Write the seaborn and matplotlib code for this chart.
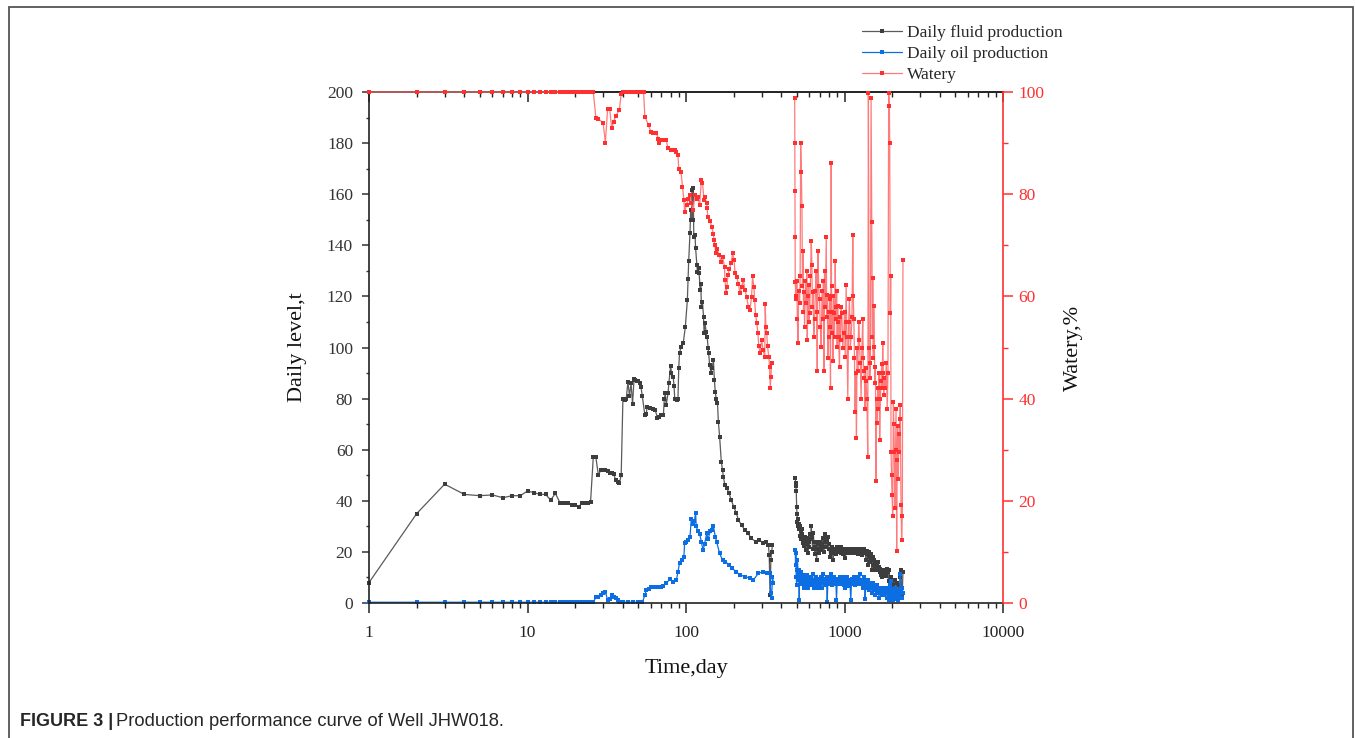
import pandas as pd
import matplotlib

matplotlib.use("Agg")
import matplotlib.pyplot as plt
import seaborn as sns
from matplotlib.lines import Line2D
from matplotlib.patches import Rectangle
from matplotlib.ticker import LogLocator, MultipleLocator, NullFormatter, FuncFormatter

# ---- data (day, value); two campaigns split by a shut-in gap ----
fluid_days_1 = [1, 2, 3, 4, 5, 6, 7, 8, 9, 10, 11, 12, 13, 14, 15, 16, 17, 18, 19, 20,
                21, 22, 23, 24, 25, 26, 27, 28, 29, 30, 31, 32, 33, 34, 35, 36, 37, 38, 39, 40,
                41, 42, 43, 44, 45, 46, 47, 48, 49, 50, 51, 52, 53, 55, 56, 57, 59, 62, 64, 66,
                68, 70, 72, 73, 74, 75, 77, 78, 80, 81, 83, 84, 85, 87, 88, 89, 90, 91, 93, 96,
                99, 102, 103, 104, 106, 107, 108, 109, 110, 111, 112, 114, 115, 117, 118, 120, 121, 123, 124, 125,
                127, 129, 130, 132, 134, 136, 138, 139, 141, 144, 146, 149, 151, 153, 155, 158, 160, 163, 167, 170,
                172, 176, 181, 187, 193, 200, 208, 214, 224, 235, 246, 258, 276, 290, 304, 319, 331, 335, 339, 343,
                347, 351]
fluid_vals_1 = [8, 35, 46.5, 42.5, 42, 42.3, 41.2, 42, 42, 43.8, 43.2, 42.5, 42.5, 40.3, 42.9, 39.3, 39, 39, 38.5, 38.2,
                37.6, 39, 39, 39, 39.7, 57, 57, 50, 52, 52, 52, 51.5, 51, 51, 50.5, 48, 47.5, 47, 50, 80,
                79.5, 80, 86.6, 81, 86, 78, 87.5, 87.2, 87, 87, 86, 84.5, 81, 73.6, 74, 76.8, 76.5, 76, 75.4, 72.6,
                72.7, 73.5, 73.6, 80, 82, 77.5, 82, 86.2, 92.8, 90, 88.6, 85, 79.7, 79.7, 79.5, 80, 92, 97.7, 100.3, 101.6,
                108, 118.6, 127, 134, 145, 153.8, 150, 161.6, 150, 162.3, 143.4, 144, 138.8, 132.3, 129.7, 131, 129, 122.5, 125, 116,
                118, 112, 105.6, 109.5, 106, 104, 100, 97.7, 93, 90, 92, 95, 87.3, 82.7, 80, 78.2, 71, 65, 55.3, 52,
                49.4, 46.2, 44.9, 42.9, 40.3, 37.7, 35.1, 32.5, 30.5, 28.6, 27.3, 25.3, 24, 24.7, 23.6, 24, 22.7, 18.8, 3, 16.8,
                20, 22.7]

fluid_days_2 = [489, 491, 493, 496, 499, 502, 505, 509, 512, 515, 518, 521, 525, 528, 532, 536, 540, 545, 549, 554,
                558, 563, 568, 573, 578, 583, 588, 594, 600, 606, 612, 617, 623, 629, 635, 641, 647, 653, 660, 666,
                673, 679, 686, 693, 700, 707, 713, 720, 727, 734, 741, 748, 755, 763, 770, 778, 785, 793, 800, 808,
                816, 824, 832, 840, 848, 856, 865, 873, 882, 890, 899, 908, 917, 926, 935, 944, 953, 963, 972, 982,
                992, 1002, 1012, 1022, 1032, 1042, 1052, 1063, 1073, 1084, 1095, 1106, 1117, 1128, 1139, 1150, 1162, 1173, 1185, 1197,
                1209, 1221, 1233, 1246, 1258, 1271, 1284, 1297, 1310, 1323, 1336, 1349, 1363, 1377, 1390, 1404, 1418, 1433, 1447, 1462,
                1476, 1491, 1506, 1521, 1536, 1552, 1567, 1583, 1599, 1615, 1631, 1648, 1664, 1681, 1698, 1715, 1732, 1750, 1767, 1785,
                1803, 1821, 1840, 1858, 1877, 1896, 1915, 1934, 1954, 1973, 1993, 2013, 2033, 2054, 2074, 2095, 2116, 2137, 2159, 2180,
                2202, 2224, 2246, 2269, 2291, 2314, 2337]
fluid_vals_2 = [49, 47, 45.7, 44, 37.7, 35, 31.6, 30.3, 33, 28.9, 31, 30, 26.2, 28, 24.9, 29, 27, 23.5, 26, 25,
                22.2, 26, 24, 20.8, 25.5, 23, 19.5, 24, 22, 27, 25, 30, 26, 21, 27.5, 24, 22, 19, 24, 17,
                21, 23, 19.5, 21, 24, 22, 20.8, 23, 25.5, 22, 20, 27, 24, 22, 25.5, 24.5, 26, 23, 21, 18,
                20.8, 19.5, 22, 21, 16.8, 20, 19.5, 21, 20.8, 19, 22, 21, 20, 20.8, 22, 19.5, 22, 20, 19, 20.8,
                21, 19.5, 17.5, 20, 21, 20.8, 19.5, 21, 20, 21, 20.8, 19.5, 21, 20, 19.5, 20.8, 21, 19.5, 20, 21,
                20.8, 19, 21, 20, 19.5, 21, 20.8, 18.8, 20, 21, 19.5, 20, 17, 20.5, 19, 15, 20, 18, 16, 19,
                17, 13, 18, 15, 17, 14, 16, 12.8, 15, 13, 16, 14, 12, 13.5, 11, 12.8, 10, 12.8, 11.5, 13,
                12, 10.5, 11, 13.5, 12, 8.7, 12.8, 7.4, 10, 5, 8, 3, 7, 4.7, 9, 6, 3, 8, 5, 2,
                7, 4, 10, 13, 6, 3, 12]

oil_days_1 = [1, 2, 3, 4, 5, 6, 7, 8, 9, 10, 11, 12, 13, 14, 15, 16, 17, 18, 19, 20,
              21, 22, 23, 24, 25, 26, 27, 28, 29, 30, 31, 32, 33, 34, 35, 36, 37, 38, 39, 40,
              43, 46, 50, 53, 55, 56, 58, 60, 62, 65, 68, 70, 72, 75, 79, 83, 87, 89, 91, 94,
              97, 98, 100, 103, 106, 108, 111, 113, 115, 116, 119, 122, 125, 128, 131, 135, 138, 142, 145, 149,
              153, 156, 163, 170, 177, 187, 196, 206, 219, 236, 253, 266, 286, 307, 323, 339, 342, 347, 351, 356]
oil_vals_1 = [0.3, 0.3, 0.3, 0.3, 0.3, 0.3, 0.3, 0.3, 0.3, 0.3, 0.3, 0.3, 0.3, 0.3, 0.3, 0.3, 0.3, 0.3, 0.3, 0.3,
              0.3, 0.3, 0.3, 0.3, 0.3, 0.3, 2.2, 2.5, 3, 3.8, 4.4, 1.2, 1.5, 3, 2.5, 2, 1, 0.5, 0.3, 0.3,
              0.3, 0.3, 0.3, 0.3, 3, 5, 5.5, 6.1, 6.2, 6.4, 6.4, 6.4, 6.6, 7.7, 9.3, 8.4, 9, 12.3, 15.5, 17,
              18, 23.4, 24, 24.5, 26, 33, 31, 32, 35.3, 30, 28, 27, 24, 20.7, 23, 27.3, 25, 28, 28.6, 30,
              26, 24, 19.4, 16.8, 16.2, 14.9, 13.6, 12.3, 11, 10.3, 9.7, 9, 11.6, 12.3, 11.6, 11.6, 3.8, 2, 10.3, 8]

oil_days_2 = list(fluid_days_2)
oil_vals_2 = [20.8, 15, 19.4, 10.3, 7, 13, 16.8, 12, 9, 13, 1, 11.4, 9, 12, 8, 10, 7.4, 9.5, 11, 8,
              6, 9, 10.5, 7, 8.7, 11, 6, 9, 7.4, 10, 8, 9.5, 7, 11.4, 8, 6, 9, 8.7, 10, 7,
              9, 6, 8, 9.5, 7.4, 10, 8.7, 6, 9, 11.4, 8, 9.4, 7, 8.7, 10, 0.5, 8, 9, 7.4, 10,
              8.7, 11.4, 9, 7, 8, 10, 8.7, 7.4, 9, 1, 8, 9.5, 7.4, 8.7, 10, 8, 9, 7.4, 8.7, 10,
              7, 6, 8.7, 9, 7.4, 10, 8, 6.5, 9, 8, 1, 7.4, 9.5, 8, 7.4, 10, 8.7, 7, 9, 8,
              10, 7.4, 9, 11.4, 8, 7.4, 9, 8, 6, 8.7, 10, 1.5, 7, 8.7, 6, 9, 7.4, 5, 8, 6,
              7.4, 4, 6, 8, 5, 6.5, 3, 5.4, 7, 4, 6, 2, 5.4, 4, 6, 3, 5, 4, 6, 3,
              5.4, 4, 6, 2, 4, 5.4, 1, 7, 3, 8.7, 2, 5, 1, 4, 2, 6, 1.5, 5, 3, 1,
              4, 2, 11.4, 5, 2, 6, 4]

water_days_1 = [1, 2, 3, 4, 5, 6, 7, 8, 9, 10, 11, 12, 13, 14, 15, 16, 17, 18, 19, 20,
                21, 22, 23, 24, 25, 26, 27, 28, 30, 31, 32, 33, 34, 35, 36, 38, 39, 40, 42, 44,
                46, 48, 50, 52, 54, 55, 58, 60, 62, 65, 67, 68, 70, 73, 75, 77, 81, 85, 87, 89,
                90, 93, 95, 97, 98, 101, 103, 106, 108, 111, 114, 117, 119, 122, 125, 127, 130, 131, 135, 136,
                137, 142, 145, 149, 150, 152, 154, 157, 162, 166, 170, 175, 176, 179, 181, 184, 188, 192, 197, 201,
                204, 209, 214, 219, 224, 230, 236, 242, 247, 253, 259, 263, 268, 271, 275, 280, 284, 288, 293, 300,
                306, 314, 316, 319, 323, 327, 333, 337, 340, 343, 347]
water_vals_1 = [100, 100, 100, 100, 100, 100, 100, 100, 100, 100, 100, 100, 100, 100, 100, 100, 100, 100, 100, 100,
                100, 100, 100, 100, 100, 100, 95, 94.7, 94, 90.1, 96.6, 96.6, 92.9, 94.2, 95.3, 96.5, 99.7, 100, 100, 100,
                100, 100, 100, 100, 100, 95.2, 93.5, 92.2, 91.9, 91.9, 90.9, 90, 90.6, 90.6, 90.6, 89, 88.6, 88.6, 88.3, 87.6,
                85, 84.4, 81.5, 78.9, 76.6, 77.9, 79, 79.8, 78.2, 77, 79.8, 79, 79.5, 77.9, 82.8, 82.2, 78.9, 79.5, 78.2, 77.3,
                75.6, 74.8, 73.6, 72.3, 71, 70.1, 68.4, 69.2, 68.1, 66.8, 67.8, 65.8, 63.2, 60.6, 61.8, 64.2, 65.4, 66.5, 68.4, 67.2,
                64.5, 63.8, 62.5, 60.6, 61.8, 63.2, 61.2, 59.9, 58, 57.3, 59.8, 63.9, 61.9, 59.3, 56.4, 54.7, 52.8, 50.2, 48.9, 51.5,
                49.6, 48.2, 58.6, 54.1, 52.8, 50.2, 48.2, 46.2, 42, 44.3, 47]

water_days_2 = [485, 486, 487, 488, 489, 492, 496, 500, 504, 509,
                514, 521, 525, 529, 534, 539, 543, 547, 551, 555,
                560, 567, 574, 578, 582, 588, 594, 598, 603, 610,
                617, 623, 627, 632, 640, 647, 655, 663, 668, 673,
                679, 687, 696, 704, 713, 722, 731, 736, 741, 748,
                757, 767, 772, 778, 785, 793, 799, 805, 810, 816,
                820, 824, 828, 832, 838, 845, 851, 857, 865, 874,
                880, 886, 892, 899, 904, 908, 918, 930, 937, 944,
                952, 962, 975, 990, 1000, 1010, 1017, 1024, 1036, 1049,
                1062, 1075, 1088, 1101, 1115, 1128, 1137, 1145, 1156, 1167,
                1178, 1190, 1200, 1213, 1228, 1243, 1258, 1273, 1288, 1304,
                1313, 1323, 1335, 1348, 1358, 1368, 1385, 1402, 1415, 1430,
                1443, 1457, 1471, 1485, 1500, 1507, 1520, 1529, 1544, 1556,
                1567, 1582, 1595, 1606, 1620, 1636, 1650, 1667, 1685, 1701,
                1716, 1730, 1742, 1755, 1768, 1785, 1810, 1835, 1860, 1880,
                1900, 1919, 1928, 1946, 1956, 1966, 1980, 1994, 2014, 2034,
                2050, 2063, 2083, 2100, 2114, 2134, 2150, 2165, 2186, 2200,
                2218, 2235, 2250, 2272, 2294, 2316, 2338]
water_vals_2 = [98.9, 90.1, 80.7, 71.6, 62.9, 60, 59.5, 63, 55.5, 50.8,
                61, 58.8, 64, 90.1, 84.4, 77.7, 62, 68.9, 57, 60.9,
                54.1, 63, 58.8, 65, 51.4, 60, 62.2, 55, 56.8, 64,
                70.9, 66.2, 58, 60.9, 52, 55.5, 61, 64.9, 57, 45.4,
                68.9, 62, 59.5, 54, 50.1, 61, 55.5, 63, 45.4, 64.9,
                58, 71.6, 56, 60.2, 48, 52.1, 57, 59.5, 54, 42,
                60, 86.1, 62, 52.8, 57, 47.4, 60, 56.8, 52, 66.9,
                58, 55.5, 61, 50.1, 55, 58.2, 52, 46.1, 56, 51.4,
                58, 56.8, 50, 52.8, 57, 48.1, 55, 62.2, 52, 40,
                55, 59.5, 50, 52.1, 56, 72, 60, 55.5, 48, 37.3,
                45, 32.3, 50, 45.4, 55, 51.4, 47, 40, 50, 55.5,
                48, 45.4, 44, 38, 46, 43.4, 40, 28.6, 99.9, 50,
                44, 47, 98.9, 74.6, 52, 63.6, 48, 58.2, 50.1, 43,
                46.1, 23.9, 40, 35.3, 42, 38, 45, 31.9, 40, 43.4,
                46.7, 42, 50.8, 45, 40.7, 44, 42, 47, 38, 45,
                99.9, 97.2, 90.1, 56.8, 63.9, 29.6, 25, 21.2, 17.1, 39.3,
                35, 29.6, 18.5, 30, 38, 10.1, 28, 34.6, 24.2, 33,
                29.6, 36, 38.7, 19.2, 12.4, 17.1, 67.2]

x_ticks = [1, 10, 100, 1000, 10000]


def series_frame(days_1, vals_1, days_2, vals_2):
    # one frame per curve, "seg" keeps the shut-in gap unconnected
    return pd.DataFrame({
        "day": days_1 + days_2,
        "value": vals_1 + vals_2,
        "seg": [1] * len(days_1) + [2] * len(days_2),
    })


fluid_df = series_frame(fluid_days_1, fluid_vals_1, fluid_days_2, fluid_vals_2)
oil_df = series_frame(oil_days_1, oil_vals_1, oil_days_2, oil_vals_2)
water_df = series_frame(water_days_1, water_vals_1, water_days_2, water_vals_2)

sns.set_style("ticks")
plt.rcParams["font.family"] = ["Liberation Serif", "DejaVu Serif"]

W, H = 1355, 738
fig = plt.figure(figsize=(W / 100, H / 100), dpi=100)
ax = fig.add_axes([369 / W, (H - 603) / H, 634 / W, 511 / H])

black_c, blue_c, red_c, red_line = "#3d3d3d", "#0b6fe3", "#ff3030", "#ff7b7b"
line_kw = dict(units="seg", estimator=None, marker="s", markersize=3.5, linewidth=0.9,
               markeredgewidth=0, clip_on=False)

sns.lineplot(data=fluid_df, x="day", y="value", ax=ax, color="#5a5a5a",
             markerfacecolor=black_c, **line_kw)
sns.lineplot(data=oil_df, x="day", y="value", ax=ax, color=blue_c,
             markerfacecolor=blue_c, **line_kw)

ax.set_xscale("log")
ax.set_xlim(1, 10000)
ax.set_ylim(0, 200)
ax.set_xticks(x_ticks)
ax.xaxis.set_major_formatter(FuncFormatter(lambda v, _: f"{v:g}"))
ax.xaxis.set_minor_locator(LogLocator(base=10, subs=range(2, 10)))
ax.xaxis.set_minor_formatter(NullFormatter())
ax.yaxis.set_major_locator(MultipleLocator(20))
ax.yaxis.set_minor_locator(MultipleLocator(10))

ax.tick_params(axis="x", which="major", direction="out", length=7, width=1.1,
               labelsize=12.5, pad=8.5, colors="#222")
ax.tick_params(axis="x", which="minor", direction="out", length=3.5, width=1.0, colors="#222")
ax.tick_params(axis="y", which="major", direction="out", length=5, width=1.1,
               labelsize=12.5, pad=6.5, colors="#333")
ax.tick_params(axis="y", which="minor", direction="out", length=2.5, width=1.0, colors="#333")
for side in ["left", "bottom", "top"]:
    ax.spines[side].set_linewidth(1.2)
    ax.spines[side].set_color("#222")
ax.spines["right"].set_visible(False)

# top ticks point inward
top = ax.secondary_xaxis("top")
top.set_xticks(x_ticks)
top.xaxis.set_minor_locator(LogLocator(base=10, subs=range(2, 10)))
top.tick_params(which="major", direction="in", length=7, width=1.1, labeltop=False, colors="#222")
top.tick_params(which="minor", direction="in", length=3.5, width=1.0, colors="#222")
top.xaxis.set_minor_formatter(NullFormatter())
top.spines["top"].set_linewidth(1.2)

ax.set_xlabel("Time,day", fontsize=16, labelpad=13, color="#111")
ax.set_ylabel("Daily level,t", fontsize=16, labelpad=14, color="#111")

# watery on the right axis
ax2 = ax.twinx()
sns.lineplot(data=water_df, x="day", y="value", ax=ax2, color=red_line,
             markerfacecolor=red_c, **line_kw)
ax2.set_ylim(0, 100)
ax2.yaxis.set_major_locator(MultipleLocator(20))
ax2.yaxis.set_minor_locator(MultipleLocator(10))
ax2.tick_params(axis="y", which="major", direction="out", length=7, width=1.1,
                labelsize=12.5, pad=4, colors=red_c)
ax2.tick_params(axis="y", which="minor", direction="out", length=3.5, width=1.0, colors=red_c)
for side in ["left", "bottom", "top"]:
    ax2.spines[side].set_visible(False)
ax2.spines["right"].set_color(red_c)
ax2.spines["right"].set_linewidth(1.2)
ax2.set_ylabel("Watery,%", fontsize=16, labelpad=14, color="#111")
ax2.set_xlabel("")

handles = [
    Line2D([], [], color="#5a5a5a", lw=0.9, marker="s", ms=3.5, mfc=black_c, mew=0),
    Line2D([], [], color=blue_c, lw=0.9, marker="s", ms=3.5, mfc=blue_c, mew=0),
    Line2D([], [], color=red_line, lw=0.9, marker="s", ms=3.5, mfc=red_c, mew=0),
]
labels = ["Daily fluid production", "Daily oil production", "Watery"]
fig.legend(handles, labels, loc="upper left", bbox_to_anchor=(862 / W, 1 - 25 / H),
           frameon=False, fontsize=12.5, handlelength=2.3, handletextpad=0.3,
           labelspacing=0.28, borderpad=0, borderaxespad=0)

# caption and panel border
cap_font = ["Liberation Sans Narrow", "Liberation Sans"]
fig.text(20 / W, 1 - 722 / H, "FIGURE 3 |", fontsize=13, fontweight="bold",
         family=cap_font, va="center", ha="left")
fig.text(116 / W, 1 - 722 / H, "Production performance curve of Well JHW018.", fontsize=13.2,
         family=cap_font, va="center", ha="left")
fig.add_artist(Rectangle((9 / W, -0.02), (1353 - 9) / W, 1.02 - 7 / H, transform=fig.transFigure,
                         fill=False, edgecolor="#555", linewidth=1.3))

fig.savefig("out.png", dpi=100)
